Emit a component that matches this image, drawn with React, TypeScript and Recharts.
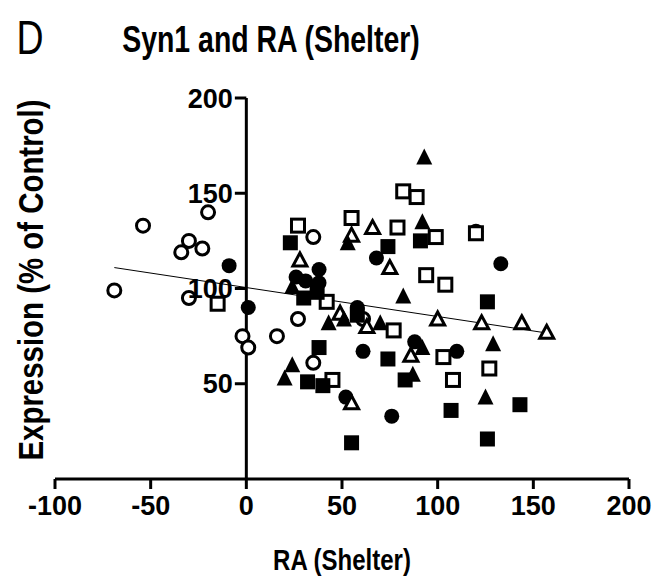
import { ScatterChart, Scatter, XAxis, YAxis, ReferenceLine } from 'recharts';

const FONT = '"Liberation Sans", Arial, sans-serif';

const xTicks = [-100, -50, 0, 50, 100, 150, 200];
const yTicks = [50, 100, 150, 200];

// [RA, expression] pairs
const openCircles = [
  [-69, 99], [-54, 133], [-34, 119], [-30, 125], [-30, 95], [-23, 121], [-20, 140],
  [-2, 75], [1, 69], [16, 75], [27, 84], [35, 127], [35, 61], [61, 84],
];
const filledCircles = [
  [-9, 112], [1, 90], [26, 106], [38, 110], [31, 104], [38, 103], [58, 90], [68, 116],
  [52, 43], [61, 67], [76, 33], [88, 72], [110, 67], [120, 130], [133, 113],
];
const openSquares = [
  [-15, 92], [27, 133], [42, 93], [45, 52], [55, 137], [79, 132], [77, 78], [82, 151],
  [89, 148], [94, 107], [99, 127], [104, 102], [103, 64], [108, 52], [120, 129], [127, 58],
];
const filledSquares = [
  [23, 124], [30, 95], [37, 98], [38, 69], [32, 51], [40, 49], [55, 19], [58, 86],
  [74, 122], [74, 63], [83, 52], [91, 125], [107, 36], [126, 93], [126, 21], [143, 39],
];
const openTriangles = [
  [28, 115], [49, 87], [55, 128], [55, 40], [63, 80], [66, 132], [75, 111], [86, 65],
  [100, 84], [123, 82], [144, 82], [157, 77],
];
const filledTriangles = [
  [24, 101], [20, 53], [24, 60], [43, 82], [51, 84], [53, 124], [70, 82], [82, 96],
  [87, 55], [92, 69], [92, 135], [93, 169], [125, 43], [129, 71],
];

// linear fit
const fitRange = [-69, 157];
const fitSlope = -0.152;
const fitIntercept = 100.5;

const toPoints = (arr: number[][]) => arr.map(([x, y]) => ({ x, y }));

const makeShape = (kind: string, filled: boolean) => (props: any) => {
  const { cx, cy } = props;
  if (cx == null || cy == null) return <g />;
  const fill = filled ? '#000' : '#fff';
  if (kind === 'circle') {
    return <circle cx={cx} cy={cy} r={filled ? 7.5 : 6.5} fill={fill} stroke="#000" strokeWidth={filled ? 0 : 3} />;
  }
  if (kind === 'square') {
    const s = filled ? 15 : 13;
    return <rect x={cx - s / 2} y={cy - s / 2} width={s} height={s} fill={fill} stroke="#000" strokeWidth={filled ? 0 : 3} />;
  }
  const h = filled ? 15 : 12;
  const w = filled ? 16 : 14;
  return (
    <polygon
      points={`${cx},${cy - h / 2 - 1} ${cx - w / 2},${cy + h / 2} ${cx + w / 2},${cy + h / 2}`}
      fill={fill}
      stroke="#000"
      strokeWidth={filled ? 0 : 3}
      strokeLinejoin="miter"
    />
  );
};

const series = [
  { name: 'openCircles', data: openCircles, kind: 'circle', filled: false },
  { name: 'filledCircles', data: filledCircles, kind: 'circle', filled: true },
  { name: 'openSquares', data: openSquares, kind: 'square', filled: false },
  { name: 'filledSquares', data: filledSquares, kind: 'square', filled: true },
  { name: 'openTriangles', data: openTriangles, kind: 'triangle', filled: false },
  { name: 'filledTriangles', data: filledTriangles, kind: 'triangle', filled: true },
];

const textBox = (left: number, top: number, transform: string): any => ({
  position: 'absolute', left, top, transform, whiteSpace: 'nowrap', color: '#000', lineHeight: 1,
});

export default function App() {
  return (
    <div style={{ position: 'absolute', left: 0, top: 0, width: 658, height: 583, background: '#fff', fontFamily: FONT }}>
      <div style={{ ...textBox(30, 38, 'translate(-50%, -50%) scaleX(0.78)'), fontSize: 48 }}>D</div>
      <div style={{ ...textBox(271, 40, 'translate(-50%, -50%) scaleX(0.79)'), fontSize: 36, fontWeight: 700 }}>
        Syn1 and RA (Shelter)
      </div>
      <div style={{ ...textBox(30, 280, 'translate(-50%, -50%) rotate(-90deg) scaleX(0.84)'), fontSize: 35, fontWeight: 700 }}>
        Expression (% of Control)
      </div>
      <div style={{ ...textBox(342, 560, 'translate(-50%, -50%) scaleX(0.8)'), fontSize: 30, fontWeight: 700 }}>
        RA (Shelter)
      </div>
      <ScatterChart width={658} height={583} margin={{ top: 98, right: 29, bottom: 0, left: 55 }}>
        <XAxis
          type="number"
          dataKey="x"
          domain={[-100, 200]}
          ticks={xTicks}
          interval={0}
          height={104}
          axisLine={{ stroke: '#000', strokeWidth: 3 }}
          tickLine={{ stroke: '#000', strokeWidth: 3 }}
          tickSize={10}
          tickMargin={7}
          tick={{ fontSize: 27, fontWeight: 700, fill: '#000', fontFamily: FONT }}
        />
        <YAxis type="number" dataKey="y" domain={[0, 200]} hide />
        <ReferenceLine segment={[{ x: 0, y: 0 }, { x: 0, y: 200 }]} stroke="#000" strokeWidth={3} ifOverflow="visible" />
        {yTicks.map((v) => (
          <ReferenceLine
            key={v}
            segment={[{ x: -6, y: v }, { x: 0, y: v }]}
            stroke="#000"
            strokeWidth={3}
            ifOverflow="visible"
            label={{ value: String(v), position: 'left', offset: 2, fontSize: 27, fontWeight: 700, fill: '#000', fontFamily: FONT }}
          />
        ))}
        <ReferenceLine
          segment={[
            { x: fitRange[0], y: fitIntercept + fitSlope * fitRange[0] },
            { x: fitRange[1], y: fitIntercept + fitSlope * fitRange[1] },
          ]}
          stroke="#000"
          strokeWidth={1}
        />
        {series.map((s) => (
          <Scatter
            key={s.name}
            name={s.name}
            data={toPoints(s.data)}
            shape={makeShape(s.kind, s.filled)}
            isAnimationActive={false}
          />
        ))}
      </ScatterChart>
    </div>
  );
}
